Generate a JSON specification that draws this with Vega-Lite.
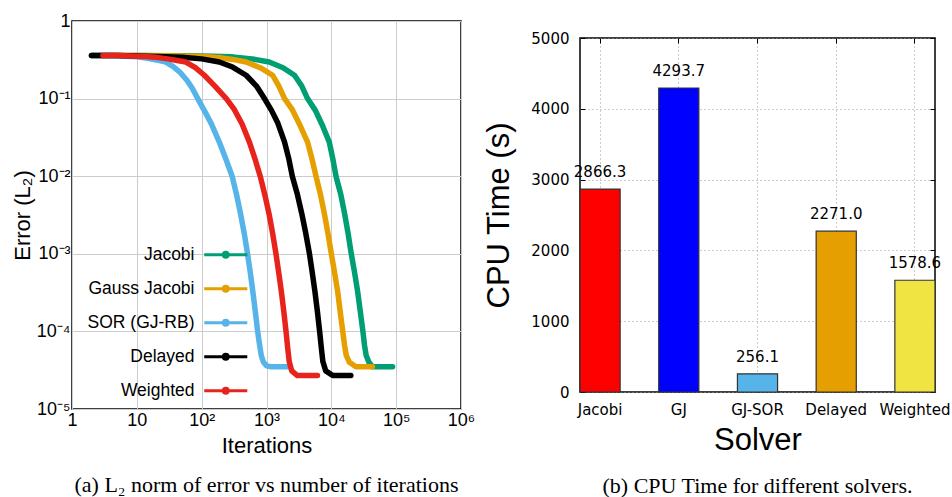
{
  "$schema": "https://vega.github.io/schema/vega-lite/v6.json",
  "background": "white",
  "padding": {"left": 10, "top": 11, "right": 0, "bottom": 0},
  "bounds": "flush",
  "center": {"row": true},
  "spacing": 119,
  "config": {
    "view": {"stroke": "black", "strokeWidth": 1.5}
  },
  "datasets": {
    "curves": [
      {"solver": "Jacobi", "iter": 2, "err": 0.36},
      {"solver": "Jacobi", "iter": 10, "err": 0.358},
      {"solver": "Jacobi", "iter": 50, "err": 0.357},
      {"solver": "Jacobi", "iter": 100, "err": 0.355},
      {"solver": "Jacobi", "iter": 300, "err": 0.345},
      {"solver": "Jacobi", "iter": 600, "err": 0.325},
      {"solver": "Jacobi", "iter": 1100, "err": 0.296},
      {"solver": "Jacobi", "iter": 1800, "err": 0.25},
      {"solver": "Jacobi", "iter": 2700, "err": 0.2},
      {"solver": "Jacobi", "iter": 3500, "err": 0.145},
      {"solver": "Jacobi", "iter": 4300, "err": 0.1},
      {"solver": "Jacobi", "iter": 5700, "err": 0.07},
      {"solver": "Jacobi", "iter": 7300, "err": 0.045},
      {"solver": "Jacobi", "iter": 9300, "err": 0.0275},
      {"solver": "Jacobi", "iter": 10500, "err": 0.017},
      {"solver": "Jacobi", "iter": 11800, "err": 0.01},
      {"solver": "Jacobi", "iter": 14000, "err": 0.0058},
      {"solver": "Jacobi", "iter": 16000, "err": 0.0033},
      {"solver": "Jacobi", "iter": 18200, "err": 0.0018},
      {"solver": "Jacobi", "iter": 20300, "err": 0.001},
      {"solver": "Jacobi", "iter": 22800, "err": 0.00058},
      {"solver": "Jacobi", "iter": 25400, "err": 0.00033},
      {"solver": "Jacobi", "iter": 28000, "err": 0.00018},
      {"solver": "Jacobi", "iter": 30700, "err": 0.0001},
      {"solver": "Jacobi", "iter": 32500, "err": 0.000066},
      {"solver": "Jacobi", "iter": 34500, "err": 0.000049},
      {"solver": "Jacobi", "iter": 38000, "err": 0.00004},
      {"solver": "Jacobi", "iter": 43000, "err": 0.000035},
      {"solver": "Jacobi", "iter": 88000, "err": 0.000035},
      {"solver": "Gauss Jacobi", "iter": 2, "err": 0.36},
      {"solver": "Gauss Jacobi", "iter": 10, "err": 0.358},
      {"solver": "Gauss Jacobi", "iter": 50, "err": 0.355},
      {"solver": "Gauss Jacobi", "iter": 100, "err": 0.35},
      {"solver": "Gauss Jacobi", "iter": 200, "err": 0.335},
      {"solver": "Gauss Jacobi", "iter": 300, "err": 0.32},
      {"solver": "Gauss Jacobi", "iter": 485, "err": 0.296},
      {"solver": "Gauss Jacobi", "iter": 800, "err": 0.25},
      {"solver": "Gauss Jacobi", "iter": 1240, "err": 0.2},
      {"solver": "Gauss Jacobi", "iter": 1550, "err": 0.145},
      {"solver": "Gauss Jacobi", "iter": 1900, "err": 0.1},
      {"solver": "Gauss Jacobi", "iter": 2500, "err": 0.072},
      {"solver": "Gauss Jacobi", "iter": 3300, "err": 0.045},
      {"solver": "Gauss Jacobi", "iter": 4300, "err": 0.0275},
      {"solver": "Gauss Jacobi", "iter": 5000, "err": 0.017},
      {"solver": "Gauss Jacobi", "iter": 5800, "err": 0.01},
      {"solver": "Gauss Jacobi", "iter": 6800, "err": 0.0058},
      {"solver": "Gauss Jacobi", "iter": 7800, "err": 0.0033},
      {"solver": "Gauss Jacobi", "iter": 8900, "err": 0.0018},
      {"solver": "Gauss Jacobi", "iter": 10000, "err": 0.001},
      {"solver": "Gauss Jacobi", "iter": 11200, "err": 0.00058},
      {"solver": "Gauss Jacobi", "iter": 12500, "err": 0.00033},
      {"solver": "Gauss Jacobi", "iter": 13700, "err": 0.00018},
      {"solver": "Gauss Jacobi", "iter": 15000, "err": 0.0001},
      {"solver": "Gauss Jacobi", "iter": 16000, "err": 0.000066},
      {"solver": "Gauss Jacobi", "iter": 17000, "err": 0.000049},
      {"solver": "Gauss Jacobi", "iter": 19000, "err": 0.00004},
      {"solver": "Gauss Jacobi", "iter": 24000, "err": 0.000035},
      {"solver": "Gauss Jacobi", "iter": 43000, "err": 0.000035},
      {"solver": "SOR (GJ-RB)", "iter": 2, "err": 0.36},
      {"solver": "SOR (GJ-RB)", "iter": 4, "err": 0.358},
      {"solver": "SOR (GJ-RB)", "iter": 7, "err": 0.352},
      {"solver": "SOR (GJ-RB)", "iter": 10, "err": 0.345},
      {"solver": "SOR (GJ-RB)", "iter": 15, "err": 0.33},
      {"solver": "SOR (GJ-RB)", "iter": 20, "err": 0.315},
      {"solver": "SOR (GJ-RB)", "iter": 28, "err": 0.295},
      {"solver": "SOR (GJ-RB)", "iter": 36, "err": 0.26},
      {"solver": "SOR (GJ-RB)", "iter": 46, "err": 0.22},
      {"solver": "SOR (GJ-RB)", "iter": 60, "err": 0.17},
      {"solver": "SOR (GJ-RB)", "iter": 72, "err": 0.135},
      {"solver": "SOR (GJ-RB)", "iter": 87, "err": 0.1},
      {"solver": "SOR (GJ-RB)", "iter": 110, "err": 0.07},
      {"solver": "SOR (GJ-RB)", "iter": 140, "err": 0.048},
      {"solver": "SOR (GJ-RB)", "iter": 187, "err": 0.0275},
      {"solver": "SOR (GJ-RB)", "iter": 240, "err": 0.016},
      {"solver": "SOR (GJ-RB)", "iter": 295, "err": 0.01},
      {"solver": "SOR (GJ-RB)", "iter": 350, "err": 0.0055},
      {"solver": "SOR (GJ-RB)", "iter": 400, "err": 0.0032},
      {"solver": "SOR (GJ-RB)", "iter": 450, "err": 0.0019},
      {"solver": "SOR (GJ-RB)", "iter": 510, "err": 0.001},
      {"solver": "SOR (GJ-RB)", "iter": 570, "err": 0.00053},
      {"solver": "SOR (GJ-RB)", "iter": 630, "err": 0.00028},
      {"solver": "SOR (GJ-RB)", "iter": 690, "err": 0.00015},
      {"solver": "SOR (GJ-RB)", "iter": 730, "err": 0.0001},
      {"solver": "SOR (GJ-RB)", "iter": 780, "err": 0.000068},
      {"solver": "SOR (GJ-RB)", "iter": 830, "err": 0.000049},
      {"solver": "SOR (GJ-RB)", "iter": 900, "err": 0.00004},
      {"solver": "SOR (GJ-RB)", "iter": 1000, "err": 0.000036},
      {"solver": "SOR (GJ-RB)", "iter": 1180, "err": 0.000035},
      {"solver": "SOR (GJ-RB)", "iter": 2250, "err": 0.000035},
      {"solver": "Delayed", "iter": 2, "err": 0.36},
      {"solver": "Delayed", "iter": 5, "err": 0.358},
      {"solver": "Delayed", "iter": 10, "err": 0.355},
      {"solver": "Delayed", "iter": 20, "err": 0.35},
      {"solver": "Delayed", "iter": 50, "err": 0.34},
      {"solver": "Delayed", "iter": 100, "err": 0.325},
      {"solver": "Delayed", "iter": 187, "err": 0.296},
      {"solver": "Delayed", "iter": 300, "err": 0.255},
      {"solver": "Delayed", "iter": 485, "err": 0.2},
      {"solver": "Delayed", "iter": 700, "err": 0.145},
      {"solver": "Delayed", "iter": 930, "err": 0.1},
      {"solver": "Delayed", "iter": 1200, "err": 0.07},
      {"solver": "Delayed", "iter": 1500, "err": 0.048},
      {"solver": "Delayed", "iter": 1900, "err": 0.0275},
      {"solver": "Delayed", "iter": 2200, "err": 0.017},
      {"solver": "Delayed", "iter": 2500, "err": 0.01},
      {"solver": "Delayed", "iter": 3000, "err": 0.0058},
      {"solver": "Delayed", "iter": 3500, "err": 0.0033},
      {"solver": "Delayed", "iter": 4000, "err": 0.0019},
      {"solver": "Delayed", "iter": 4600, "err": 0.001},
      {"solver": "Delayed", "iter": 5100, "err": 0.00056},
      {"solver": "Delayed", "iter": 5600, "err": 0.00032},
      {"solver": "Delayed", "iter": 6100, "err": 0.00018},
      {"solver": "Delayed", "iter": 6600, "err": 0.0001},
      {"solver": "Delayed", "iter": 7000, "err": 0.000062},
      {"solver": "Delayed", "iter": 7400, "err": 0.000041},
      {"solver": "Delayed", "iter": 8200, "err": 0.000031},
      {"solver": "Delayed", "iter": 10500, "err": 0.000027},
      {"solver": "Delayed", "iter": 20000, "err": 0.000027},
      {"solver": "Weighted", "iter": 3, "err": 0.36},
      {"solver": "Weighted", "iter": 5, "err": 0.358},
      {"solver": "Weighted", "iter": 8, "err": 0.355},
      {"solver": "Weighted", "iter": 12, "err": 0.35},
      {"solver": "Weighted", "iter": 20, "err": 0.34},
      {"solver": "Weighted", "iter": 30, "err": 0.325},
      {"solver": "Weighted", "iter": 42, "err": 0.31},
      {"solver": "Weighted", "iter": 57, "err": 0.296},
      {"solver": "Weighted", "iter": 80, "err": 0.25},
      {"solver": "Weighted", "iter": 110, "err": 0.2},
      {"solver": "Weighted", "iter": 160, "err": 0.145},
      {"solver": "Weighted", "iter": 240, "err": 0.1},
      {"solver": "Weighted", "iter": 320, "err": 0.072},
      {"solver": "Weighted", "iter": 420, "err": 0.047},
      {"solver": "Weighted", "iter": 545, "err": 0.0275},
      {"solver": "Weighted", "iter": 660, "err": 0.017},
      {"solver": "Weighted", "iter": 800, "err": 0.01},
      {"solver": "Weighted", "iter": 950, "err": 0.0056},
      {"solver": "Weighted", "iter": 1100, "err": 0.0032},
      {"solver": "Weighted", "iter": 1250, "err": 0.00178},
      {"solver": "Weighted", "iter": 1400, "err": 0.001},
      {"solver": "Weighted", "iter": 1550, "err": 0.00056},
      {"solver": "Weighted", "iter": 1700, "err": 0.00032},
      {"solver": "Weighted", "iter": 1850, "err": 0.00018},
      {"solver": "Weighted", "iter": 2000, "err": 0.0001},
      {"solver": "Weighted", "iter": 2120, "err": 0.000062},
      {"solver": "Weighted", "iter": 2240, "err": 0.000041},
      {"solver": "Weighted", "iter": 2450, "err": 0.000031},
      {"solver": "Weighted", "iter": 3000, "err": 0.000027},
      {"solver": "Weighted", "iter": 6100, "err": 0.000027}
    ],
    "cpu": [
      {"solver": "Jacobi", "time": 2866.3},
      {"solver": "GJ", "time": 4293.7},
      {"solver": "GJ-SOR", "time": 256.1},
      {"solver": "Delayed", "time": 2271.0},
      {"solver": "Weighted", "time": 1578.6}
    ]
  },
  "hconcat": [
    {
      "width": 389,
      "height": 388,
      "data": {"name": "curves"},
      "title": {
        "text": "(a) L₂ norm of error vs number of iterations",
        "orient": "bottom",
        "anchor": "middle",
        "font": "Liberation Serif",
        "fontSize": 22,
        "fontWeight": "normal",
        "color": "black",
        "offset": 19
      },
      "mark": {"type": "line", "strokeWidth": 5.5, "strokeCap": "round", "strokeJoin": "round", "clip": true},
      "encoding": {
        "x": {
          "field": "iter",
          "type": "quantitative",
          "scale": {"type": "log", "domain": [1, 1000000], "nice": false},
          "axis": {
            "values": [1, 10, 100, 1000, 10000, 100000, 1000000],
            "labelExpr": "datum.value == 1 ? '1' : datum.value == 10 ? '10' : '10' + ['','','²','³','⁴','⁵','⁶'][round(log(datum.value)/LN10)]",
            "labelFont": "Liberation Sans",
            "labelFontSize": 18,
            "labelColor": "black",
            "labelPadding": 2,
            "labelFlush": false,
            "labelOverlap": false,
            "ticks": false,
            "domain": false,
            "grid": true,
            "gridColor": "#cccccc",
            "gridWidth": 1,
            "title": "Iterations",
            "titleFont": "Liberation Sans",
            "titleFontSize": 22,
            "titleFontWeight": "normal",
            "titleColor": "black",
            "titlePadding": 6
          }
        },
        "y": {
          "field": "err",
          "type": "quantitative",
          "scale": {"type": "log", "domain": [0.00001, 1], "nice": false},
          "axis": {
            "values": [0.00001, 0.0001, 0.001, 0.01, 0.1, 1],
            "labelExpr": "datum.value == 1 ? '1' : '10' + ['','⁻¹','⁻²','⁻³','⁻⁴','⁻⁵'][round(-log(datum.value)/LN10)]",
            "labelFont": "Liberation Sans",
            "labelFontSize": 18,
            "labelColor": "black",
            "labelPadding": 2,
            "labelOverlap": false,
            "labelFlush": false,
            "ticks": false,
            "domain": false,
            "grid": true,
            "gridColor": "#cccccc",
            "gridWidth": 1,
            "title": "Error (L₂)",
            "titleFont": "Liberation Sans",
            "titleFontSize": 22,
            "titleFontWeight": "normal",
            "titleColor": "black",
            "titlePadding": 2
          }
        },
        "color": {
          "field": "solver",
          "type": "nominal",
          "scale": {
            "domain": ["Jacobi", "Gauss Jacobi", "SOR (GJ-RB)", "Delayed", "Weighted"],
            "range": ["#009e73", "#e69f00", "#56b4e9", "#000000", "#e8231b"]
          },
          "legend": {
            "orient": "none",
            "legendX": 145,
            "legendY": 225,
            "title": null,
            "padding": 0,
            "symbolType": "M-4,0L4,0M0.45,0A0.45,0.45,0,1,1,-0.45,0A0.45,0.45,0,1,1,0.45,0Z",
            "symbolSize": 116,
            "symbolStrokeWidth": 3,
            "labelAlign": "right",
            "labelOffset": -40,
            "labelFont": "Liberation Sans",
            "labelFontSize": 17.5,
            "labelColor": "black",
            "rowPadding": 15,
            "encode": {
              "symbols": {
                "enter": {"strokeWidth": {"value": 3}},
                "update": {"fill": {"scale": "color", "field": "value"}, "strokeWidth": {"value": 3}, "opacity": {"value": 1}}
              }
            }
          }
        }
      }
    },
    {
      "width": 355,
      "height": 354,
      "data": {"name": "cpu"},
      "title": {
        "text": "(b) CPU Time for different solvers.",
        "orient": "bottom",
        "anchor": "middle",
        "font": "Liberation Serif",
        "fontSize": 22,
        "fontWeight": "normal",
        "color": "black",
        "offset": 21
      },
      "resolve": {"axis": {"x": "independent", "y": "independent"}},
      "layer": [
        {
          "mark": {"type": "bar", "stroke": "#333333", "strokeWidth": 1.2},
          "encoding": {
            "x": {
              "field": "solver",
              "type": "nominal",
              "sort": ["Jacobi", "GJ", "GJ-SOR", "Delayed", "Weighted"],
              "scale": {"paddingInner": 0.49, "paddingOuter": 0},
              "axis": {
                "orient": "bottom",
                "labelAngle": 0,
                "labelFont": "DejaVu Sans",
                "labelFontSize": 15,
                "labelColor": "black",
                "labelPadding": 15,
                "ticks": true,
                "tickSize": -5,
                "tickColor": "black",
                "bandPosition": 0.5,
                "domain": false,
                "grid": true,
                "gridDash": [1, 3],
                "gridColor": "#999999",
                "title": "Solver",
                "titleFont": "Liberation Sans",
                "titleFontSize": 31,
                "titleFontWeight": "normal",
                "titleColor": "black",
                "titlePadding": 8
              }
            },
            "y": {
              "field": "time",
              "type": "quantitative",
              "scale": {"domain": [0, 5000], "nice": false},
              "axis": {
                "values": [0, 1000, 2000, 3000, 4000, 5000],
                "format": "d",
                "labelFont": "DejaVu Sans",
                "labelFontSize": 15,
                "labelColor": "black",
                "labelPadding": 16,
                "labelFlush": false,
                "ticks": true,
                "tickSize": -5,
                "tickColor": "black",
                "domain": false,
                "grid": true,
                "gridDash": [1, 3],
                "gridColor": "#999999",
                "title": "CPU Time (s)",
                "titleFont": "Liberation Sans",
                "titleFontSize": 31,
                "titleFontWeight": "normal",
                "titleColor": "black",
                "titlePadding": 15
              }
            },
            "fill": {
              "field": "solver",
              "type": "nominal",
              "scale": {
                "domain": ["Jacobi", "GJ", "GJ-SOR", "Delayed", "Weighted"],
                "range": ["#ff0000", "#0000ff", "#56b4e9", "#e69f00", "#f0e442"]
              },
              "legend": null
            }
          }
        },
        {
          "mark": {"type": "text", "baseline": "alphabetic", "dy": -12, "font": "DejaVu Sans", "fontSize": 15, "color": "black"},
          "encoding": {
            "x": {
              "field": "solver",
              "type": "nominal",
              "sort": ["Jacobi", "GJ", "GJ-SOR", "Delayed", "Weighted"],
              "axis": {
                "orient": "top",
                "labels": false,
                "ticks": true,
                "tickSize": -5,
                "tickColor": "black",
                "bandPosition": 0.5,
                "domain": false,
                "grid": false,
                "title": null
              }
            },
            "y": {
              "field": "time",
              "type": "quantitative",
              "axis": {
                "orient": "right",
                "values": [0, 1000, 2000, 3000, 4000, 5000],
                "labels": false,
                "ticks": true,
                "tickSize": -5,
                "tickColor": "black",
                "domain": false,
                "grid": false,
                "title": null
              }
            },
            "text": {"field": "time", "type": "quantitative", "format": ".1f"}
          }
        }
      ]
    }
  ]
}
